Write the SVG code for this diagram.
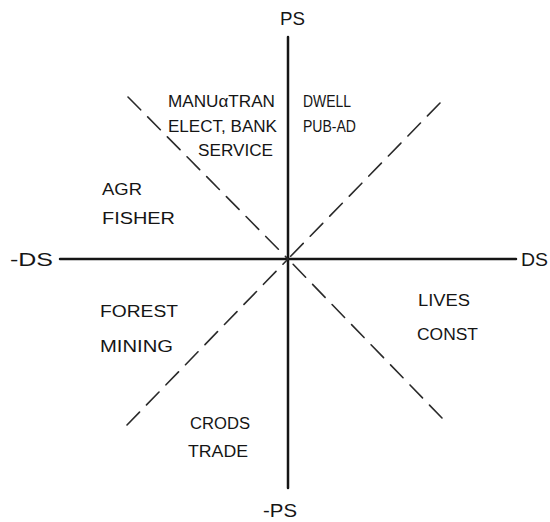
<svg xmlns="http://www.w3.org/2000/svg" width="550" height="522" viewBox="0 0 550 522">
<style>
.axis{stroke:#151515;stroke-width:2.5;fill:none;stroke-linecap:round}
.diag{stroke:#2a2a2a;stroke-width:1.6;fill:none;stroke-dasharray:18 10;stroke-linecap:round}
.lbl{font-family:"Liberation Sans",Arial,sans-serif;font-size:16px;fill:#151515}
.ax{font-family:"Liberation Sans",Arial,sans-serif;font-size:18px;fill:#151515}
</style>
<rect width="550" height="522" fill="#ffffff"/>
<g id="connectors">
<line class="axis" x1="288" y1="37" x2="288" y2="488"/>
<line class="axis" x1="60" y1="259" x2="516" y2="259"/>
<line class="diag" x1="128" y1="97" x2="288" y2="259"/>
<line class="diag" x1="440" y1="103" x2="288" y2="259"/>
<line class="diag" x1="127" y1="425" x2="288" y2="259"/>
<line class="diag" x1="442" y1="418" x2="288" y2="259"/>
</g>
<g id="axis-labels">
<text class="ax" x="280" y="25" textLength="25" lengthAdjust="spacingAndGlyphs">PS</text>
<text class="ax" x="263" y="517" textLength="34" lengthAdjust="spacingAndGlyphs">-PS</text>
<text class="ax" x="10" y="266" textLength="43" lengthAdjust="spacingAndGlyphs">-DS</text>
<text class="ax" x="521" y="266" textLength="27" lengthAdjust="spacingAndGlyphs">DS</text>
</g>
<g id="node-manufacturing">
<text class="lbl" x="168" y="107" textLength="107" lengthAdjust="spacingAndGlyphs">MANUαTRAN</text>
<text class="lbl" x="168" y="132" textLength="109" lengthAdjust="spacingAndGlyphs">ELECT, BANK</text>
<text class="lbl" x="198" y="156" textLength="75" lengthAdjust="spacingAndGlyphs">SERVICE</text>
</g>
<g id="node-dwell">
<text class="lbl" x="303" y="107" textLength="48" lengthAdjust="spacingAndGlyphs">DWELL</text>
<text class="lbl" x="303" y="132" textLength="53" lengthAdjust="spacingAndGlyphs">PUB-AD</text>
</g>
<g id="node-agr">
<text class="lbl" x="102" y="195" textLength="40" lengthAdjust="spacingAndGlyphs">AGR</text>
<text class="lbl" x="102" y="224" textLength="73" lengthAdjust="spacingAndGlyphs">FISHER</text>
</g>
<g id="node-forest">
<text class="lbl" x="100" y="317" textLength="78" lengthAdjust="spacingAndGlyphs">FOREST</text>
<text class="lbl" x="100" y="352" textLength="73" lengthAdjust="spacingAndGlyphs">MINING</text>
</g>
<g id="node-lives">
<text class="lbl" x="418" y="306" textLength="52" lengthAdjust="spacingAndGlyphs">LIVES</text>
<text class="lbl" x="417" y="340" textLength="61" lengthAdjust="spacingAndGlyphs">CONST</text>
</g>
<g id="node-crods">
<text class="lbl" x="190" y="429" textLength="60" lengthAdjust="spacingAndGlyphs">CRODS</text>
<text class="lbl" x="188" y="457" textLength="60" lengthAdjust="spacingAndGlyphs">TRADE</text>
</g>
</svg>
